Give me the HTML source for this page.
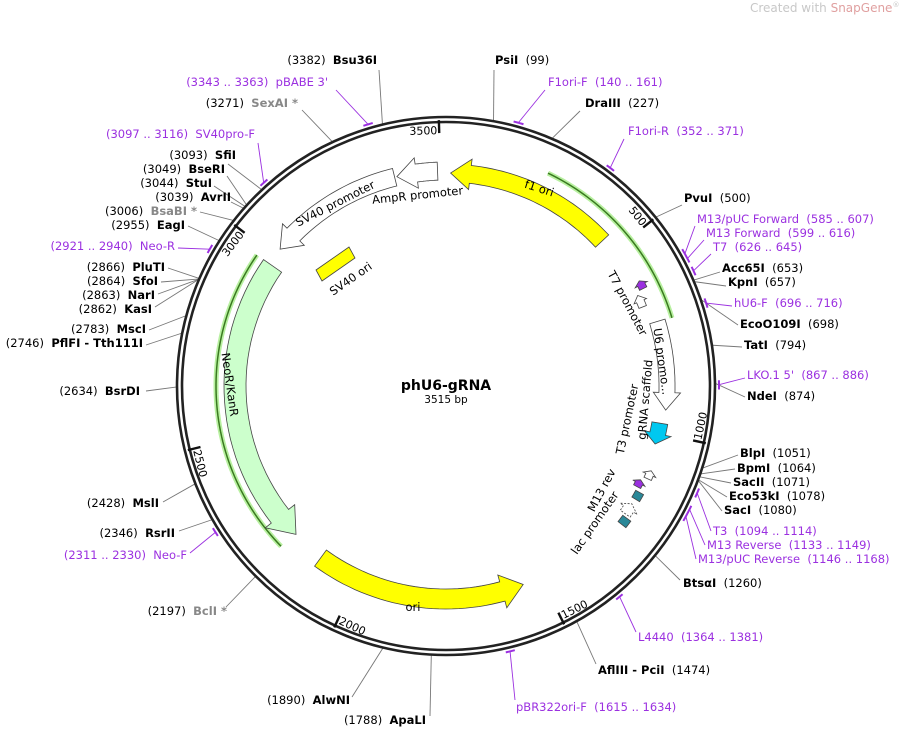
<!DOCTYPE html>
<html><head><meta charset="utf-8"><style>
body{margin:0;background:#fff}
svg{display:block;font-family:"DejaVu Sans","Liberation Sans",sans-serif;font-size:11.5px}
.b{font-weight:bold}
.p{fill:#9b30e0}
.g{fill:#888}
</style></head><body>
<svg id="s" width="902" height="729" viewBox="0 0 902 729" xmlns="http://www.w3.org/2000/svg">
<text x="750" y="12" fill="#c8c8c8" font-size="12">Created with <tspan fill="#e0a0a0">SnapGene</tspan><tspan font-size="7" dy="-5">®</tspan></text>
<g id="lines" stroke="#777" stroke-width="0.9" fill="none"></g>
<g id="plin" stroke="#9b30e0" stroke-width="0.9" fill="none"></g>
<circle cx="446" cy="386" r="269" fill="none" stroke="#222" stroke-width="2.6"/>
<circle cx="446" cy="386" r="264" fill="none" stroke="#222" stroke-width="2.6"/>
<g id="feat"></g>
<g id="txt"></g>
<text x="446" y="390" text-anchor="middle" class="b" font-size="14">phU6-gRNA</text>
<text x="446" y="403" text-anchor="middle" font-size="10.5">3515 bp</text>
</svg>
<script>
const N=3515,CX=446,CY=386,NS="http://www.w3.org/2000/svg";
function pt(p,r){const a=p/N*2*Math.PI;return [CX+r*Math.sin(a),CY-r*Math.cos(a)];}
function el(par,tag,at,txt){const e=document.createElementNS(NS,tag);for(const k in at)e.setAttribute(k,at[k]);if(txt!=null)e.textContent=txt;document.getElementById(par).appendChild(e);return e;}
function arcPts(p1,p2,r,n){const a=[];for(let i=0;i<=n;i++){a.push(pt(p1+(p2-p1)*i/n,r));}return a;}
function arrow(t,h,r,w,fill,dash){const hl=Math.min(Math.abs(h-t)*0.5,(w*1.1)/(2*Math.PI*r)*N);const s=h>t?1:-1;const hb=h-s*hl;
 let P=[];P=P.concat(arcPts(t,hb,r+w/2,30));P.push(pt(hb,r+w/2+w*0.35));P.push(pt(h,r));P.push(pt(hb,r-w/2-w*0.35));P=P.concat(arcPts(hb,t,r-w/2,30));
 el('feat','polygon',{points:P.map(q=>q[0].toFixed(1)+','+q[1].toFixed(1)).join(' '),fill:fill,stroke:'#444','stroke-width':0.8,'stroke-dasharray':dash||'none'});}
function rectf(a,b,r,w,fill){let P=arcPts(a,b,r+w/2,8).concat(arcPts(b,a,r-w/2,8));el('feat','polygon',{points:P.map(q=>q.join(',')).join(' '),fill:fill,stroke:'#444','stroke-width':0.8});}
function garc(a,b,r){const P=arcPts(a,b,r,60).map(q=>q.join(',')).join(' ');el('feat','polyline',{points:P,fill:'none',stroke:'#b8f0a0','stroke-width':5});el('feat','polyline',{points:P,fill:'none',stroke:'#3a7a20','stroke-width':1.5});}
garc(250,715,236);garc(2975,2205,230);
arrow(460,12,213,18,'#ffff00');
arrow(3493,3386,215,18,'#fff');
arrow(3380,3022,215,18,'#fff');
arrow(2975,2200,211,22,'#ccffcc');
arrow(2110,1550,213,20,'#ffff00');
arrow(713,940,221,16,'#fff');
arrow(975,1030,217,16,'#00c8f0');
arrow(622,600,220,8,'#9b30e0');arrow(665,632,212,8,'#fff');
arrow(1120,1098,222,8,'#fff');arrow(1150,1130,216,8,'#9b30e0');
rectf(1160,1180,221,9,'#2a8898');arrow(1225,1195,220,12,'#fff','2,1.5');rectf(1232,1252,224,10,'#2a8898');
el('feat','polygon',{points:'316,270 349,247 355,258 322,281',fill:'#ffff00',stroke:'#444','stroke-width':0.8});
for(const p of [500,1000,1500,2000,2500,3000,3500]){const a=pt(p,266),b=pt(p,253);el('feat','line',{x1:a[0],y1:a[1],x2:b[0],y2:b[1],stroke:'#111','stroke-width':2.4});
 const ang=p/N*360;
 if(ang>90&&ang<270){const c=pt(p-4,261);el('txt','text',{x:c[0],y:c[1],'text-anchor':'start','font-size':11,transform:`rotate(${ang-180} ${c[0]} ${c[1]})`},String(p));}
 else{const c=pt(p-4,252);el('txt','text',{x:c[0],y:c[1],'text-anchor':'end','font-size':11,transform:`rotate(${ang} ${c[0]} ${c[1]})`},String(p));}}
for(const [a,b] of [[3343,3363],[140,161],[352,371],[3097,3116],[2921,2940],[585,616],[626,645],[696,716],[867,886],[1094,1114],[1133,1168],[1364,1381],[1615,1634],[2311,2330]]){
 const P=arcPts(a,b,273,6).map(q=>q.join(',')).join(' ');el('feat','polyline',{points:P,fill:'none',stroke:'#9b30e0','stroke-width':2});}
function rt(x,y,a,t,fs){el('txt','text',{x:x,y:y,'text-anchor':'middle','font-size':fs||11.5,transform:`rotate(${a} ${x} ${y})`},t);}
rt(418,199,-6,'AmpR promoter');rt(337,207,-27,'SV40 promoter');rt(538,192,18,'f1 ori');rt(226,385,82,'NeoR/KanR');rt(413,611,0,'ori');rt(353,282,-35,'SV40 ori');
rt(624,305,62,'T7 promoter');rt(658,362,82,'U6 promo...');rt(649,400,-85,'gRNA scaffold');rt(631,420,-78,'T3 promoter');rt(605,492,-62,'M13 rev');rt(598,525,-55,'lac promoter');
function L(x,y,side,num,name,pos,cls,lx){const t=el('txt','text',{x:x,y:y,'text-anchor':side=='L'?'end':'start'});
 function ts(s,c){const e=document.createElementNS(NS,'tspan');e.textContent=s;if(c)e.setAttribute('class',c);t.appendChild(e);}
 const nc=cls=='p'?'p':'b '+(cls||'');const numc=cls=='p'?'p':'';const sp='\u00a0\u00a0';
 if(side=='L'){ts(num+sp,numc);ts(name,nc);}else{ts(name,nc);ts(sp+num,numc);}
 const c=pt(pos,cls=='p'?273:270);el(cls=='p'?'plin':'lines','line',{x1:lx[0],y1:lx[1],x2:c[0],y2:c[1]});}
L(377,64,'L','(3382)','Bsu36I',3382,'',[379,70]);
L(495,64,'R','(99)','PsiI',99,'',[494,70]);
L(328,86,'L','(3343 .. 3363)','pBABE 3\'',3353,'p',[336,90]);
L(548,86,'R','(140 .. 161)','F1ori-F',150,'p',[545,90]);
L(585,107,'R','(227)','DraIII',227,'',[580,111]);
L(298,107,'L','(3271)','SexAI *',3271,'g',[302,110]);
L(628,135,'R','(352 .. 371)','F1ori-R',361,'p',[624,139]);
L(255,138,'L','(3097 .. 3116)','SV40pro-F',3106,'p',[258,143]);
L(236,159,'L','(3093)','SfiI',3093,'',[228,164]);
L(225,173,'L','(3049)','BseRI',3049,'',[227,176]);
L(212,187,'L','(3044)','StuI',3044,'',[214,186]);
L(231,201,'L','(3039)','AvrII',3039,'',[231,202]);
L(197,215,'L','(3006)','BsaBI *',3006,'g',[200,212]);
L(185,229,'L','(2955)','EagI',2955,'',[188,226]);
L(175,250,'L','(2921 .. 2940)','Neo-R',2930,'p',[178,248]);
L(165,271,'L','(2866)','PluTI',2866,'',[168,268]);
L(158,285,'L','(2864)','SfoI',2864,'',[161,282]);
L(155,299,'L','(2863)','NarI',2863,'',[158,294]);
L(152,313,'L','(2862)','KasI',2862,'',[155,307]);
L(146,333,'L','(2783)','MscI',2783,'',[149,330]);
L(143,347,'L','(2746)','PflFI - Tth111I',2746,'',[146,345]);
L(140,395,'L','(2634)','BsrDI',2634,'',[146,391]);
L(159,507,'L','(2428)','MslI',2428,'',[163,502]);
L(175,537,'L','(2346)','RsrII',2346,'',[179,531]);
L(187,559,'L','(2311 .. 2330)','Neo-F',2320,'p',[190,553]);
L(227,615,'L','(2197)','BclI *',2197,'g',[226,607]);
L(350,704,'L','(1890)','AlwNI',1890,'',[352,697]);
L(426,724,'L','(1788)','ApaLI',1788,'',[430,716]);
L(516,711,'R','(1615 .. 1634)','pBR322ori-F',1625,'p',[515,700]);
L(598,674,'R','(1474)','AflIII - PciI',1474,'',[596,664]);
L(638,641,'R','(1364 .. 1381)','L4440',1372,'p',[636,632]);
L(683,587,'R','(1260)','BtsαI',1260,'',[680,580]);
L(684,202,'R','(500)','PvuI',500,'',[682,205]);
L(697,223,'R','(585 .. 607)','M13/pUC Forward',596,'p',[695,226]);
L(706,237,'R','(599 .. 616)','M13 Forward',607,'p',[704,240]);
L(713,251,'R','(626 .. 645)','T7',635,'p',[711,254]);
L(722,272,'R','(653)','Acc65I',653,'',[720,272]);
L(728,286,'R','(657)','KpnI',657,'',[726,286]);
L(734,307,'R','(696 .. 716)','hU6-F',706,'p',[732,306]);
L(740,328,'R','(698)','EcoO109I',698,'',[738,325]);
L(744,349,'R','(794)','TatI',794,'',[742,347]);
L(747,379,'R','(867 .. 886)','LKO.1 5\'',876,'p',[745,378]);
L(747,400,'R','(874)','NdeI',874,'',[745,397]);
L(740,457,'R','(1051)','BlpI',1051,'',[738,455]);
L(737,472,'R','(1064)','BpmI',1064,'',[735,469]);
L(733,486,'R','(1071)','SacII',1071,'',[731,483]);
L(729,500,'R','(1078)','Eco53kI',1078,'',[727,497]);
L(724,514,'R','(1080)','SacI',1080,'',[722,511]);
L(713,535,'R','(1094 .. 1114)','T3',1104,'p',[711,531]);
L(707,549,'R','(1133 .. 1149)','M13 Reverse',1141,'p',[705,545]);
L(698,563,'R','(1146 .. 1168)','M13/pUC Reverse',1157,'p',[696,559]);
</script>
</body></html>
